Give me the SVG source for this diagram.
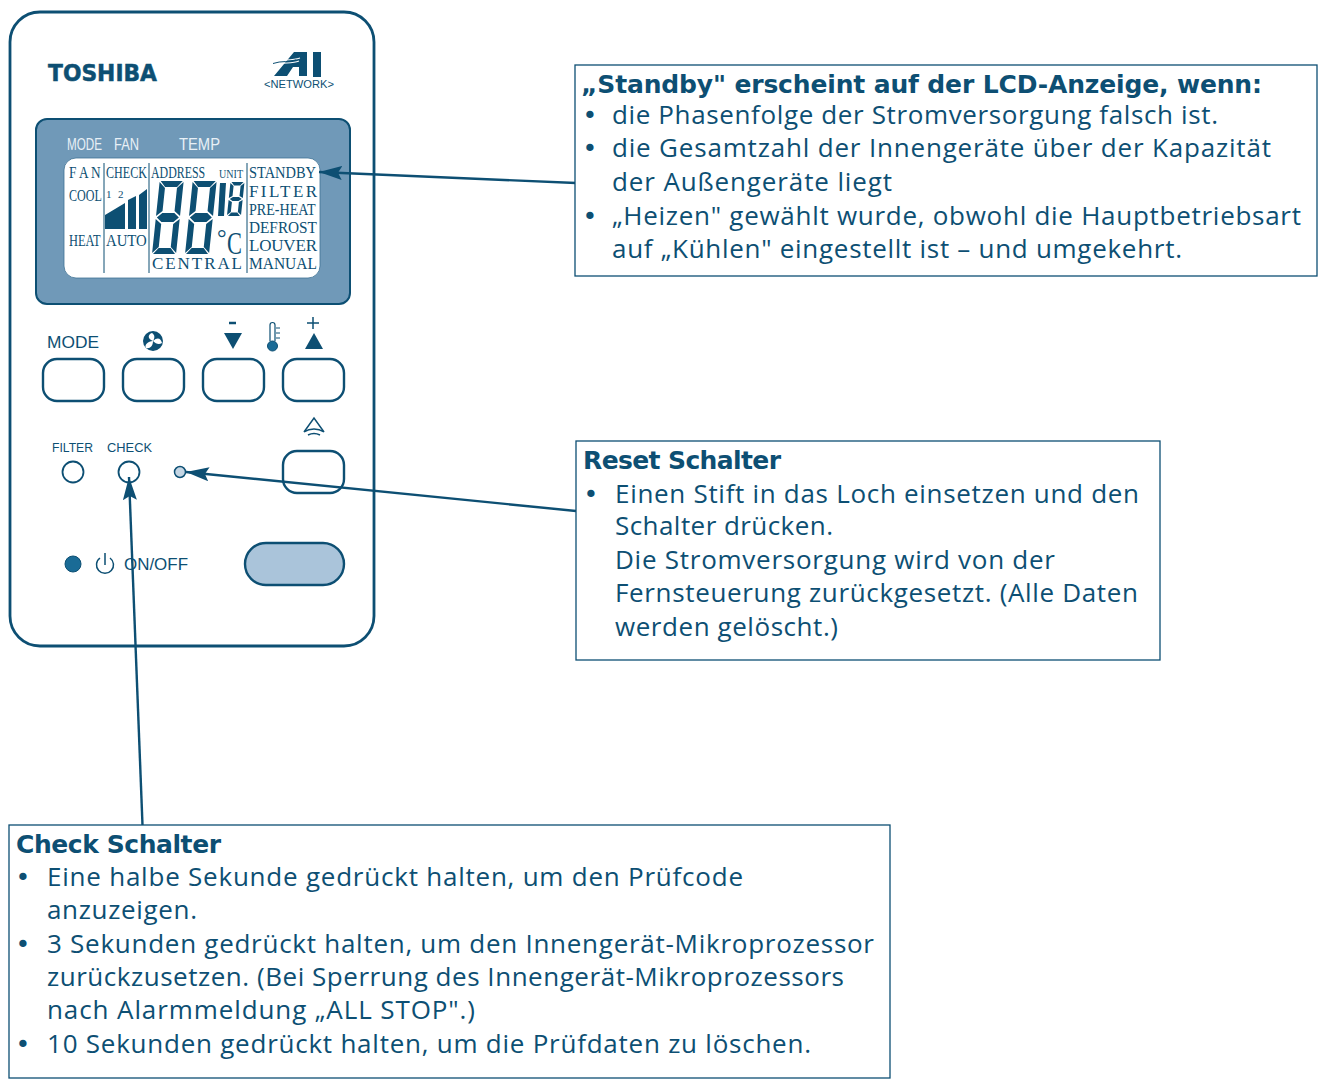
<svg xmlns="http://www.w3.org/2000/svg" width="1323" height="1081" viewBox="0 0 1323 1081">
<style>
.ln{fill:none;stroke:#0d4f73;stroke-width:2.4}
.box{fill:#fff;stroke:#0d4f73;stroke-width:1.3}
.t{font-family:"Open Sans","Noto Sans",sans-serif;font-size:26px;fill:#0d4f73}
.d{font-family:"DejaVu Sans",sans-serif;font-size:25px;fill:#0d4f73}
.b{font-family:"DejaVu Sans",sans-serif;font-weight:bold;font-size:25px;fill:#0d4f73}
.lb{font-family:"Liberation Sans",sans-serif;fill:#0d4f73}
.s{font-family:"Liberation Serif",serif;font-size:17px;fill:#0d4f73}
.w{font-family:"Liberation Sans",sans-serif;font-size:16px;fill:#e8f0f6}
.seg{fill:#0d4f73}
.con{fill:none;stroke:#0d4f73;stroke-width:2.4}
</style>
<defs>
<marker id="ah" markerUnits="userSpaceOnUse" markerWidth="25" markerHeight="16" refX="23" refY="7" orient="auto"><path d="M0 0L23 7L0 14L4 7Z" fill="#0d4f73"/></marker>
<g id="dig"><path class="seg" d="M1 0H23L18 6H6ZM0 1L6 7V30L0 35ZM24 1V35L18 30V7ZM1 36.500L6 32H18L23 36.500L18 41H6ZM0 38L6 43V66L0 72ZM24 38V72L18 66V43ZM1 73L6 67H18L23 73Z"/></g>
<g id="sdig"><path class="seg" d="M1 0H13L10 3.500H4ZM0 1L3.500 4V14L0 16ZM14 1V16L10.500 14V4ZM1 17L4 15H10L13 17L10 19H4ZM0 18L3.500 20V30L0 33ZM14 18V33L10.500 30V20ZM1 34L4 30.500H10L13 34Z"/></g>
</defs>
<rect width="1323" height="1081" fill="#fff"/>
<g id="remote">
<rect x="10" y="12" width="364" height="634" rx="30" fill="none" stroke="#0d4f73" stroke-width="2.800"/>
<text x="48" y="81" font-family="'DejaVu Sans',sans-serif" font-weight="bold" font-size="23" fill="#0d4f73" stroke="#0d4f73" stroke-width="0.500" textLength="109" lengthAdjust="spacingAndGlyphs">TOSHIBA</text>
<path d="M294 52H307V76H299V67H293L287 76H274Z" fill="#0d4f73"/>
<path d="M313 52H321V77H313Z" fill="#0d4f73"/>
<path d="M274 62C282 59 290 61 300 58M275 65C283 62 291 64 299 61" fill="none" stroke="#fff" stroke-width="1.200"/>
<path d="M273 63.500C281 60.500 290 62.500 296 60" fill="none" stroke="#0d4f73" stroke-width="1"/>
<text x="264" y="88" class="lb" font-size="10" textLength="70" lengthAdjust="spacingAndGlyphs">&lt;NETWORK&gt;</text>
</g>
<g id="lcd">
<rect x="36" y="119" width="314" height="185" rx="11" fill="#7099b8" stroke="#0d4f73" stroke-width="2"/>
<rect x="64" y="158" width="256" height="120" rx="12" fill="#fff" stroke="#3f7294" stroke-width="0.800"/>
<text class="w" x="67" y="150" textLength="35" lengthAdjust="spacingAndGlyphs">MODE</text>
<text class="w" x="114" y="150" textLength="25" lengthAdjust="spacingAndGlyphs">FAN</text>
<text class="w" x="179" y="150" textLength="41" lengthAdjust="spacingAndGlyphs">TEMP</text>
<path d="M104 163V273M149 163V273M247 163V273" stroke="#0d4f73" stroke-width="1" fill="none"/>
<text class="s" transform="translate(69 178) scale(.78 1)">F A N</text>
<text class="s" transform="translate(106 178) scale(.71 1)">CHECK</text>
<text class="s" transform="translate(151 178) scale(.7 1)">ADDRESS</text>
<text class="s" transform="translate(219 178) scale(.84 1)" style="font-size:12px">UNIT</text>
<text class="s" transform="translate(249 178) scale(.85 1)">STANDBY</text>
<text class="s" transform="translate(69 201) scale(.71 1)">COOL</text>
<text class="s" x="106" y="198" style="font-size:11px">1</text>
<text class="s" x="118" y="198" style="font-size:11px">2</text>
<path class="seg" d="M105 215L125 203V229H105ZM128 200L136 196V229H128ZM139 195L147 189V229H139Z"/>
<text class="s" transform="translate(69 246) scale(.73 1)">HEAT</text>
<text class="s" transform="translate(106 246) scale(.87 1)">AUTO</text>
<use href="#dig" transform="translate(159.700 181) skewX(-6)"/>
<use href="#dig" transform="translate(192.700 181) skewX(-6)"/>
<path class="seg" d="M220 183H226L224 216H218Z"/>
<use href="#sdig" transform="translate(230.500 182) skewX(-6)"/>
<text class="s" x="217" y="246" style="font-size:24px">°</text>
<text class="s" transform="translate(227 254) scale(.7 1)" style="font-size:32px">C</text>
<text class="s" x="152" y="269" textLength="90">CENTRAL</text>
<text class="s" x="249" y="197" textLength="68">FILTER</text>
<text class="s" transform="translate(249 215) scale(.83 1)">PRE-HEAT</text>
<text class="s" transform="translate(249 233) scale(.9 1)">DEFROST</text>
<text class="s" x="249" y="251" textLength="68">LOUVER</text>
<text class="s" transform="translate(249 269) scale(.91 1)">MANUAL</text>
</g>
<g id="buttons">
<text x="47" y="348" class="lb" font-size="17" textLength="52" lengthAdjust="spacingAndGlyphs">MODE</text>
<circle cx="153" cy="341" r="10" fill="#0d4f73"/>
<path d="M153 341C147 339 148 334 152 333C155 335 155 338 153 341ZM153 341C158 336 161 339 162 343C159 345 156 344 153 341ZM153 341C153 346 150 349 146 348C144 345 148 341 153 341Z" fill="#fff"/>
<path d="M229 323H236" stroke="#0d4f73" stroke-width="2.500"/>
<path d="M224 333H242L233 349Z" fill="#0d4f73"/>
<path d="M307 323H319M313 317V329" stroke="#0d4f73" stroke-width="1.500"/>
<path d="M305 349H323L314 333Z" fill="#0d4f73"/>
<path d="M275 341V325a2.500 2.500 0 0 0-5 0V341" fill="#fff" stroke="#0d4f73" stroke-width="1.200"/>
<circle cx="272.500" cy="346" r="5" fill="#1a6b96" stroke="#0d4f73" stroke-width="1"/>
<path d="M276 328h4M276 333h4M276 338h4" stroke="#0d4f73" stroke-width="1"/>
<rect class="ln" x="43" y="359" width="61" height="42" rx="14"/>
<rect class="ln" x="123" y="359" width="61" height="42" rx="14"/>
<rect class="ln" x="203" y="359" width="61" height="42" rx="14"/>
<rect class="ln" x="283" y="359" width="61" height="42" rx="14"/>
<path d="M304 432L314 418L324 432C318 428 310 428 304 432ZM308 435C312 433 316 433 320 435" fill="none" stroke="#0d4f73" stroke-width="1.500"/>
<rect class="ln" x="283" y="451" width="61" height="42" rx="14"/>
<rect x="245" y="543" width="99" height="42" rx="21" fill="#aac4da" stroke="#0d4f73" stroke-width="2.400"/>
</g>
<g id="leds">
<text x="52" y="452" class="lb" font-size="12.500" textLength="41" lengthAdjust="spacingAndGlyphs">FILTER</text>
<text x="107" y="452" class="lb" font-size="12.500" textLength="45" lengthAdjust="spacingAndGlyphs">CHECK</text>
<circle cx="73" cy="472" r="10.500" fill="#fff" stroke="#0d4f73" stroke-width="1.800"/>
<circle cx="129" cy="472" r="10.500" fill="#fff" stroke="#0d4f73" stroke-width="1.800"/>
<circle cx="180" cy="472" r="5.500" fill="#c5d6e4" stroke="#0d4f73" stroke-width="1.500"/>
<circle cx="73" cy="564" r="8" fill="#1a6b96" stroke="#0d4f73" stroke-width="1"/>
<path d="M100 558A8.500 8.500 0 1 0 110 558M105 553V565" fill="none" stroke="#0d4f73" stroke-width="1.500"/>
<text x="124" y="570" class="lb" font-size="17" textLength="64" lengthAdjust="spacingAndGlyphs">ON/OFF</text>
</g>
<g id="connectors">
<line class="con" x1="576" y1="183" x2="319" y2="172" marker-end="url(#ah)"/>
<line class="con" x1="576" y1="511" x2="186" y2="472" marker-end="url(#ah)"/>
<line class="con" x1="142.500" y1="825" x2="129" y2="477" marker-end="url(#ah)"/>
</g>
<g id="standby-box">
<rect class="box" x="575" y="65" width="742" height="211"/>
<text class="b" x="581" y="93" textLength="681">„Standby" erscheint auf der LCD-Anzeige, wenn:</text>
<text class="d" x="582.500" y="124">•</text><text class="t" x="612" y="124" textLength="606">die Phasenfolge der Stromversorgung falsch ist.</text>
<text class="d" x="582.500" y="157">•</text><text class="t" x="612" y="157" textLength="659">die Gesamtzahl der Innengeräte über der Kapazität</text>
<text class="t" x="612" y="191" textLength="280">der Außengeräte liegt</text>
<text class="d" x="582.500" y="225">•</text><text class="t" x="612" y="225" textLength="689">„Heizen" gewählt wurde, obwohl die Hauptbetriebsart</text>
<text class="t" x="612" y="258" textLength="570">auf „Kühlen" eingestellt ist – und umgekehrt.</text>
</g>
<g id="reset-box">
<rect class="box" x="576" y="441" width="584" height="219"/>
<text class="b" x="583" y="469" textLength="198">Reset Schalter</text>
<text class="d" x="583.500" y="503">•</text><text class="t" x="615" y="503" textLength="524">Einen Stift in das Loch einsetzen und den</text>
<text class="t" x="615" y="535" textLength="218">Schalter drücken.</text>
<text class="t" x="615" y="569" textLength="440">Die Stromversorgung wird von der</text>
<text class="t" x="615" y="602" textLength="523">Fernsteuerung zurückgesetzt. (Alle Daten</text>
<text class="t" x="615" y="636" textLength="223">werden gelöscht.)</text>
</g>
<g id="check-box">
<rect class="box" x="9" y="825" width="881" height="253"/>
<text class="b" x="16" y="853" textLength="205">Check Schalter</text>
<text class="d" x="15.500" y="886">•</text><text class="t" x="47" y="886" textLength="696">Eine halbe Sekunde gedrückt halten, um den Prüfcode</text>
<text class="t" x="47" y="919" textLength="150">anzuzeigen.</text>
<text class="d" x="15.500" y="953">•</text><text class="t" x="47" y="953" textLength="827">3 Sekunden gedrückt halten, um den Innengerät-Mikroprozessor</text>
<text class="t" x="47" y="986" textLength="797">zurückzusetzen. (Bei Sperrung des Innengerät-Mikroprozessors</text>
<text class="t" x="47" y="1019" textLength="428">nach Alarmmeldung „ALL STOP".)</text>
<text class="d" x="15.500" y="1053">•</text><text class="t" x="47" y="1053" textLength="764">10 Sekunden gedrückt halten, um die Prüfdaten zu löschen.</text>
</g>
</svg>
